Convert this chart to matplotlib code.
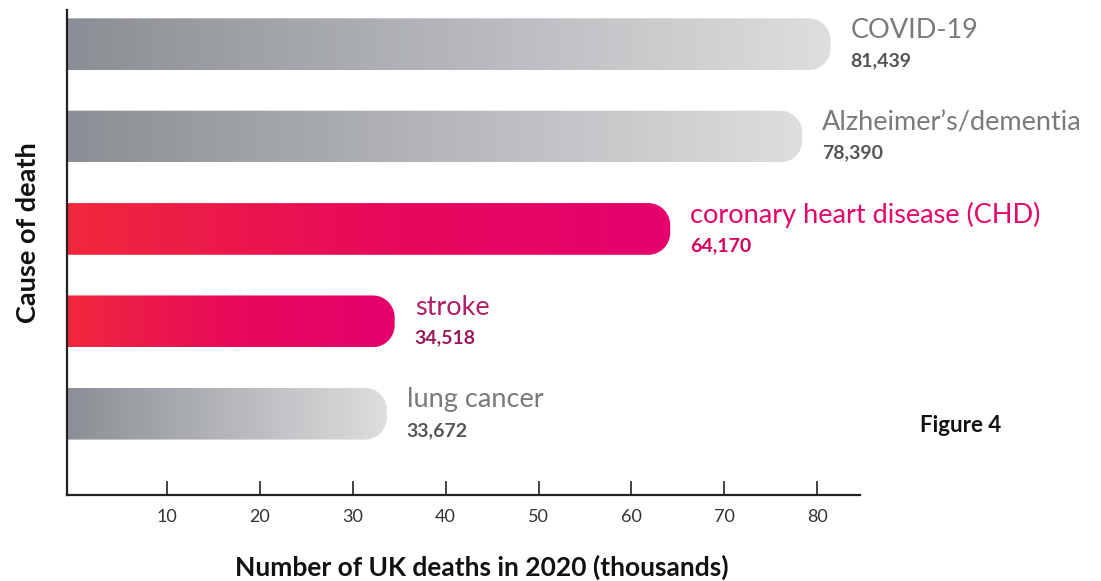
import numpy as np
import matplotlib.pyplot as plt
from matplotlib.path import Path
from matplotlib.patches import PathPatch
from matplotlib.colors import LinearSegmentedColormap

causes = ["COVID-19", "Alzheimer\u2019s/dementia", "coronary heart disease (CHD)", "stroke", "lung cancer"]
deaths = [81439, 78390, 64170, 34518, 33672]
value_labels = ["81,439", "78,390", "64,170", "34,518", "33,672"]
highlight = [False, False, True, True, False]
ticks = [10, 20, 30, 40, 50, 60, 70, 80]

grey_cmap = LinearSegmentedColormap.from_list("grey", ["#8b8e94", "#b4b6ba", "#dedede"])
red_cmap = LinearSegmentedColormap.from_list("red", ["#f0283c", "#e80a5a", "#e5006e"])

name_colors = ["#7a7a7a", "#7a7a7a", "#e3076c", "#b01f68", "#7a7a7a"]
value_colors = ["#555555", "#555555", "#d4005e", "#9a1a58", "#555555"]

fig = plt.figure(figsize=(11.01, 5.81), dpi=100)
ax = fig.add_axes([67 / 1101, 86 / 581, 793 / 1101, 485 / 581])
x_left = -0.75
ax.set_xlim(x_left, 84.6)
ax.set_ylim(4.88, -0.37)

px_x = 793 / (84.6 - x_left)   # pixels per data unit, x
px_y = 485 / (4.88 + 0.37)     # pixels per data unit, y
bar_h = 0.56
radius = 22  # corner radius in px


def rounded_bar_path(x0, x1, yc, h):
    rx = radius / px_x
    ry = radius / px_y
    top = yc - h / 2
    bot = yc + h / 2
    t = np.linspace(0, np.pi / 2, 20)
    verts = [(x0, top), (x1 - rx, top)]
    # top-right corner
    for a in t:
        verts.append((x1 - rx + rx * np.sin(a), top + ry - ry * np.cos(a)))
    verts.append((x1, bot - ry))
    for a in t:
        verts.append((x1 - rx + rx * np.cos(a), bot - ry + ry * np.sin(a)))
    verts.append((x0, bot))
    verts.append((x0, top))
    return Path(verts)


grad = np.linspace(0, 1, 256).reshape(1, -1)
for i, (name, val) in enumerate(zip(causes, deaths)):
    v = val / 1000
    path = rounded_bar_path(x_left, v, i, bar_h)
    patch = PathPatch(path, facecolor="none", edgecolor="none")
    ax.add_patch(patch)
    cmap = red_cmap if highlight[i] else grey_cmap
    im = ax.imshow(grad, cmap=cmap, aspect="auto", interpolation="bicubic",
                   extent=[x_left, v, i + bar_h / 2, i - bar_h / 2], zorder=2)
    im.set_clip_path(patch)
    tx = v + 20 / px_x
    ax.text(tx, i - 0.15, name, fontsize=19.5, color=name_colors[i], family="Lato",
            va="center", ha="left")
    ax.text(tx, i + 0.18, value_labels[i], fontsize=14, color=value_colors[i], family="Lato",
            fontweight="bold", va="center", ha="left")

ax.set_xlim(x_left, 84.6)
ax.set_ylim(4.88, -0.37)

for s in ["top", "right"]:
    ax.spines[s].set_visible(False)
for s in ["left", "bottom"]:
    ax.spines[s].set_linewidth(1.6)
    ax.spines[s].set_color("#222222")
ax.set_yticks([])
ax.set_xticks(ticks)
ax.set_xticklabels([str(t) for t in ticks], family="Lato", fontsize=13, color="#333333")
ax.tick_params(axis="x", direction="in", length=10, width=1.2, color="#222222", pad=10)

ax.set_xlabel("Number of UK deaths in 2020 (thousands)", family="Lato", fontweight="bold",
              fontsize=19, color="#111111")
ax.xaxis.set_label_coords(0.523, -0.124)
ax.set_ylabel("Cause of death", family="Lato", fontweight="bold", fontsize=19.5,
              color="#111111")
ax.yaxis.set_label_coords(-0.034, 0.54)

fig.text(920 / 1101, 1 - 425 / 581, "Figure 4", family="Lato", fontweight="bold",
         fontsize=16, va="center", ha="left", color="#111111")

fig.savefig("out.png", dpi=100)
